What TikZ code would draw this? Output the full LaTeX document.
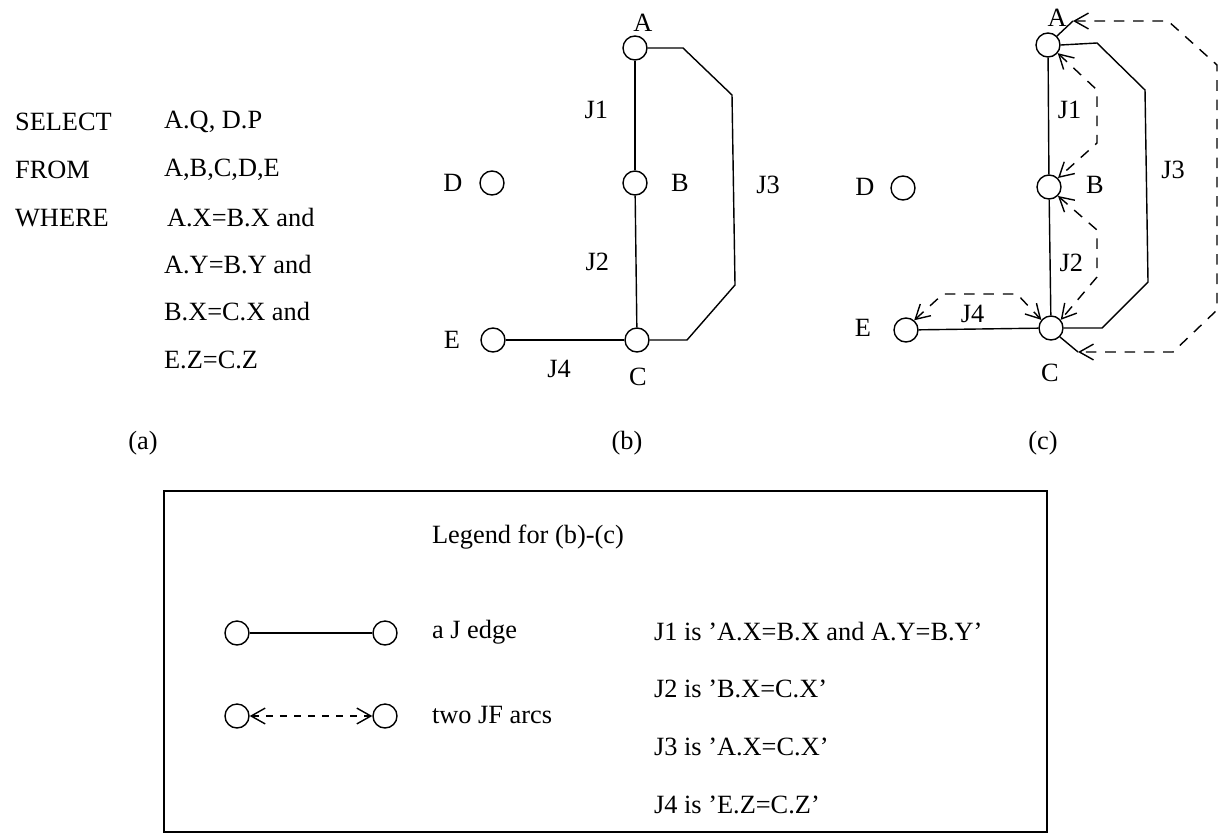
\documentclass[tikz,border=0pt]{standalone}
\usepackage{fontspec}
\setmainfont{Liberation Serif}
\usetikzlibrary{arrows.meta, positioning}

\tikzset{
  rel/.style={circle, draw, line width=0.8pt, minimum size=0.48cm, inner sep=0pt},
  jedge/.style={line width=0.8pt},
  jfarc/.style={line width=0.8pt, dash pattern=on 6pt off 5pt,
    {Straight Barb[length=8pt,width=9pt]}-{Straight Barb[length=8pt,width=9pt]}},
  lbl/.style={font=\fontsize{15}{18}\selectfont, inner sep=1pt},
}

\begin{document}
\begin{tikzpicture}[x=0.02cm, y=-0.02cm]
  \useasboundingbox (0,0) rectangle (1219,835);

  % (a) the query
  \node[lbl, anchor=west] (kwsel) at (13,122) {SELECT};
  \node[lbl, anchor=west] (kwfrom) at (13,170) {FROM};
  \node[lbl, anchor=west] (kwwhere) at (13,218) {WHERE};
  \node[lbl, anchor=west] (qsel) at (162,122) {A.Q, D.P};
  \node[lbl, anchor=west] (qfrom) at (162,170) {A,B,C,D,E};
  \node[lbl, anchor=west] (qw1) at (165,218) {A.X=B.X and};
  \node[lbl, anchor=west] (qw2) at (162,265) {A.Y=B.Y and};
  \node[lbl, anchor=west] (qw3) at (162,312) {B.X=C.X and};
  \node[lbl, anchor=west] (qw4) at (162,360) {E.Z=C.Z};
  \node[lbl] (capa) at (143,443) {(a)};

  % (b) the J graph
  \node[rel] (bA) at (635,48) {};
  \node[rel] (bB) at (635,183) {};
  \node[rel] (bC) at (637,340) {};
  \node[rel] (bD) at (492,183) {};
  \node[rel] (bE) at (493,340) {};
  \node[lbl] at (643,23) {A};
  \node[lbl] at (680,183) {B};
  \node[lbl] at (638,377) {C};
  \node[lbl] at (453,183) {D};
  \node[lbl] at (452,340) {E};
  \draw[jedge] (bA) -- node[lbl, pos=0.45, left=14pt] {J1} (bB);
  \draw[jedge] (bB) -- node[lbl, pos=0.5, left=14pt] {J2} (bC);
  \draw[jedge] (bE) -- node[lbl, pos=0.45, below=10pt] {J4} (bC);
  \draw[jedge] (bA.east) -- (683,48) -- (732,95) -- (735,285) -- (687,340) -- (bC.east);
  \node[lbl] at (768,185) {J3};
  \node[lbl] (capb) at (627,443) {(b)};

  % (c) J graph with JF arcs
  \node[rel] (cA) at (1048,45) {};
  \node[rel] (cB) at (1049,187) {};
  \node[rel] (cC) at (1051,328) {};
  \node[rel] (cD) at (903,188) {};
  \node[rel] (cE) at (906,330) {};
  \node[lbl] at (1057,18) {A};
  \node[lbl] at (1095,185) {B};
  \node[lbl] at (1050,373) {C};
  \node[lbl] at (865,187) {D};
  \node[lbl] at (863,328) {E};
  \draw[jedge] (cA) -- node[lbl, pos=0.45, right=4pt] {J1} (cB);
  \draw[jedge] (cB) -- node[lbl, pos=0.55, right=4pt] {J2} (cC);
  \draw[jedge] (cE) -- node[lbl, pos=0.45, above=2pt] {J4} (cC);
  \draw[jedge] (cA.east) -- (1097,43) -- (1145,90) -- (1148,282) -- (1102,328) -- (cC.east);
  \node[lbl] at (1173,170) {J3};
  \draw[jfarc] (cA.-40) -- (1097,90) -- (1097,143) -- (cB.45);
  \draw[jfarc] (cB.-45) -- (1097,230) -- (1097,277) -- (cC.40);
  \draw[jfarc] (cE.50) -- (943,294) -- (1017,294) -- (cC.140);
  \coordinate (tA) at (1073,21);
  \coordinate (tC) at (1078,352);
  \draw[jedge] (cA.45) -- (tA);
  \draw[jedge] (cC.-45) -- (tC);
  \draw[jfarc] (tA) -- (1168,21) -- (1217,65) -- (1217,310) -- (1173,352) -- (tC);
  \node[lbl] (capc) at (1043,443) {(c)};

  % legend
  \draw[line width=0.9pt] (164,491) rectangle (1047,832);
  \node[lbl, anchor=west] (legt) at (430,537) {Legend for (b)-(c)};
  \node[rel] (lg1) at (237,633) {};
  \node[rel] (lg2) at (385,633) {};
  \node[rel] (lg3) at (237,716) {};
  \node[rel] (lg4) at (385,716) {};
  \draw[jedge] (lg1) -- (lg2);
  \draw[jfarc, dash pattern=on 4pt off 4pt] (lg3) -- (lg4);
  \node[lbl, anchor=west] at (430,632) {a J edge};
  \node[lbl, anchor=west] at (430,715) {two JF arcs};
  \node[lbl, anchor=west] at (652,632) {J1 is 'A.X=B.X and A.Y=B.Y'};
  \node[lbl, anchor=west] at (652,689) {J2 is 'B.X=C.X'};
  \node[lbl, anchor=west] at (652,747) {J3 is 'A.X=C.X'};
  \node[lbl, anchor=west] at (652,805) {J4 is 'E.Z=C.Z'};
\end{tikzpicture}
\end{document}
